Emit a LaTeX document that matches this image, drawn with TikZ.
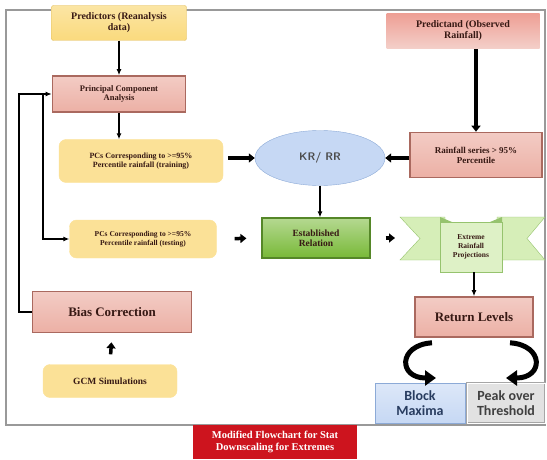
\documentclass[tikz,border=0pt]{standalone}
\usepackage{fontspec}
\setmainfont{Liberation Serif}
\newfontfamily\calibri{Carlito}
\usetikzlibrary{shapes.geometric,arrows.meta}
\definecolor{boxtext}{RGB}{55,25,20}
\definecolor{goldfill}{RGB}{250,218,125}
\definecolor{goldedge}{RGB}{225,190,95}
\definecolor{pinkfill}{RGB}{236,176,165}
\definecolor{pinkedge}{RGB}{170,105,95}
\definecolor{greenfill}{RGB}{120,185,55}
\definecolor{greenedge}{RGB}{85,135,40}
\definecolor{ribbonfill}{RGB}{214,238,184}
\definecolor{ribbonedge}{RGB}{150,195,110}
\definecolor{bluefill}{RGB}{198,216,244}
\definecolor{blueedge}{RGB}{140,170,215}
\definecolor{greyfill}{RGB}{226,226,226}
\definecolor{captionred}{RGB}{205,20,30}
\tikzset{
    base box/.style={font=\bfseries, text=boxtext, align=center, inner sep=1pt},
    yellow box/.style={base box, rounded corners=2pt, top color=goldfill!70, bottom color=goldfill, draw=goldedge},
    soft box/.style={base box, rounded corners=7pt, fill=goldfill!80, draw=goldfill!80!white},
    pink box/.style={base box, top color=pinkfill!65, bottom color=pinkfill, draw=pinkedge, line width=1.6pt},
    thin arrow/.style={-{Latex[length=6pt,width=5pt]}, line width=1.2pt},
    thick arrow/.style={-{Triangle[length=6pt,width=9pt]}, line width=3.5pt},
    curl arrow/.style={-{Triangle[length=11pt,width=15pt]}, line width=5pt},
}
\begin{document}
\begin{tikzpicture}[x=1pt, y=1pt]
    \useasboundingbox (0,0) rectangle (547,459);
    \draw[gray!80, line width=1.6pt] (6,34) rectangle (545,449);

    \node[yellow box, minimum width=135, minimum height=35, font=\bfseries\fontsize{10}{11}\selectfont] (pred) at (119,436) {Predictors (Reanalysis\\ data)};
    \node[pink box, draw=none, top color=pinkfill!90!red, bottom color=pinkfill!60, minimum width=153, minimum height=35, font=\bfseries\fontsize{10}{11}\selectfont] (obs) at (463,428) {Predictand (Observed\\ Rainfall)};
    \node[pink box, minimum width=133, minimum height=36, font=\bfseries\fontsize{8.5}{9.5}\selectfont] (pca) at (119,365) {Principal Component\\ Analysis};
    \node[soft box, minimum width=164, minimum height=43, font=\bfseries\fontsize{8}{9}\selectfont] (pctrain) at (141,298) {PCs Corresponding to >=95\%\\ Percentile rainfall (training)};
    \node[ellipse, draw=blueedge, fill=bluefill, minimum width=130, minimum height=55, font=\sffamily\bfseries\fontsize{11}{12}\selectfont, text=black!70] (krrr) at (320,301) {KR/ RR};
    \node[pink box, minimum width=132, minimum height=45, font=\bfseries\fontsize{9}{10}\selectfont] (rainser) at (476,304) {Rainfall series > 95\%\\ Percentile};
    \node[soft box, minimum width=147, minimum height=38, font=\bfseries\fontsize{7.5}{8.5}\selectfont] (pctest) at (143,220) {PCs Corresponding to >=95\%\\ Percentile rainfall (testing)};
    \node[base box, top color=greenfill!55, bottom color=greenfill, draw=greenedge, line width=1.2pt, minimum width=108, minimum height=40, font=\bfseries\fontsize{9.5}{10.5}\selectfont] (estrel) at (316,221) {Established\\ Relation};

    \filldraw[fill=ribbonfill, draw=ribbonedge] (400,242) -- (420,220.5) -- (400,199) -- (445,199) -- (445,242) -- cycle;
    \filldraw[fill=ribbonfill, draw=ribbonedge] (545,242) -- (527,220.5) -- (545,199) -- (497,199) -- (497,242) -- cycle;
    \fill[ribbonedge] (440,242) -- (452,237) -- (440,237) -- cycle;
    \fill[ribbonedge] (502,242) -- (490,237) -- (502,237) -- cycle;
    \coordinate (wingL) at (400,221);
    \node[base box, fill=ribbonfill!80!white, draw=ribbonedge, minimum width=62, minimum height=50, font=\bfseries\fontsize{7.5}{9}\selectfont] (extreme) at (471,212) {Extreme\\ Rainfall\\ Projections};

    \node[pink box, minimum width=159, minimum height=41, font=\bfseries\fontsize{13}{14}\selectfont] (bias) at (112,147) {Bias Correction};
    \node[soft box, minimum width=134, minimum height=33, font=\bfseries\fontsize{9.5}{11}\selectfont] (gcm) at (110,78) {GCM Simulations};
    \node[pink box, minimum width=118, minimum height=40, font=\bfseries\fontsize{13}{14}\selectfont] (retlev) at (474,142) {Return Levels};
    \node[base box, top color=bluefill!60, bottom color=bluefill, draw=blueedge, minimum width=90, minimum height=40, font=\calibri\bfseries\fontsize{14}{15.5}\selectfont, text={rgb,255:red,40;green,60;blue,95}] (block) at (420,56) {Block\\ Maxima};
    \node[base box, fill=greyfill, draw=gray!70, double=white, minimum width=78, minimum height=40, font=\calibri\bfseries\fontsize{14}{15.5}\selectfont, text=black!75] (peak) at (506,56) {Peak over\\ Threshold};

    \node[base box, fill=captionred, text=white, minimum width=164, minimum height=34, font=\bfseries\fontsize{10.5}{12}\selectfont] (caption) at (275,17) {Modified Flowchart for Stat\\ Downscaling for Extremes};

    \draw[thin arrow] (pred.south) -- (pca.north);
    \draw[thin arrow] (pca.south) -- (pca.south |- pctrain.north);
    \draw[thick arrow] (rainser.north |- obs.south) -- (rainser.north);
    \draw[thick arrow, shorten <=5] (pctrain.east |- krrr.west) -- (krrr.west);
    \draw[thick arrow] (rainser.west |- krrr.east) -- (krrr.east);
    \draw[thin arrow] (krrr.south) -- (krrr.south |- estrel.north);
    \draw[thick arrow, shorten <=18, shorten >=15] (pctest.east) -- (estrel.west);
    \draw[thick arrow, shorten <=15, shorten >=5] (estrel.east) -- (wingL);
    \draw[thin arrow] (extreme.south -| retlev.north) -- (retlev.north);
    \draw[thick arrow, shorten <=10, shorten >=9] (gcm.north) -- (bias.south);

    \coordinate (split) at (43,365);
    \draw[thin arrow] (bias.west) -- (19,147) |- (pca.west);
    \draw[thin arrow] (split) |- (pctest.west);

    \draw[curl arrow] ([xshift=-42,yshift=-5]retlev.south) .. controls (398,114) and (398,81) .. (436,81);
    \draw[curl arrow] ([xshift=36,yshift=-5]retlev.south) .. controls (544,114) and (544,81) .. (506,81);
\end{tikzpicture}
\end{document}
